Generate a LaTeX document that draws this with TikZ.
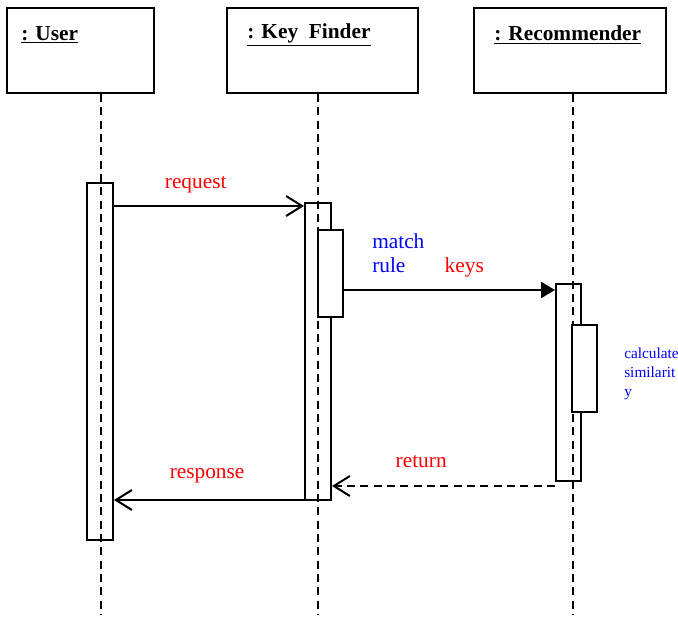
\documentclass[tikz,border=0pt]{standalone}
\usepackage{fontspec}
\setmainfont{Liberation Serif}
\usetikzlibrary{positioning, arrows.meta}

\begin{document}
\begin{tikzpicture}[
    x=0.75pt, y=-0.75pt,
    head/.style={
        rectangle, draw=black, line width=1.5pt,
        minimum height=63.75pt, inner sep=0pt
    },
    title/.style={anchor=west, inner sep=0pt, font=\fontsize{16}{19}\selectfont\bfseries},
    lifeline/.style={dash pattern=on 6pt off 4pt, line width=1.5pt},
    act/.style={rectangle, draw=black, line width=1.5pt, inner sep=0pt, minimum width=19.5pt},
    inact/.style={act, fill=white, minimum width=18.75pt, minimum height=65.25pt},
    call/.style={-{Straight Barb[length=12pt, width=15pt, line width=1.5pt]}, line width=1.6pt},
    send/.style={-{Triangle[length=10.5pt, width=12pt]}, line width=1.6pt},
    reply/.style={call, dash pattern=on 6pt off 4pt},
    msg/.style={text=red, inner sep=0pt, font=\fontsize{16}{19}\selectfont},
    note/.style={text=blue, inner sep=0pt, align=left}
]
\useasboundingbox (0,0) rectangle (678,618);

% 1. Objects on top
\node[head, minimum width=110.25pt] (user) at (80.5,50.5) {};
\node[head, minimum width=143.25pt] (finder) at (322.5,50.5) {};
\node[head, minimum width=144pt] (recom) at (570,50.5) {};

\node[title] (usertitle) at ([shift={(15,28)}]user.north west) {\underline{: User}};
\node[title] (findertitle) at ([shift={(21,28)}]finder.north west) {\underline{: Key\ \ Finder}};
\node[title] (recomtitle) at ([shift={(21,28)}]recom.north west) {\underline{: Recommender}};

% 2. Lifelines
\coordinate (uend) at (101,615);
\coordinate (fend) at (318,615);
\coordinate (rend) at (573,615);
\draw[lifeline] (uend |- user.south) -- (uend);
\draw[lifeline] (fend |- finder.south) -- (fend);
\draw[lifeline] (rend |- recom.south) -- (rend);

% 3. Activation bars
\node[act, minimum height=267.75pt] (uact) at (100,361.5) {};
\node[act, minimum height=222.75pt] (fact) at (318,351.5) {};
\node[inact] (fin) at (330.5,273.5) {};
\node[act, minimum width=18.75pt, minimum height=147.75pt] (ract) at (568.5,382.5) {};
\node[inact] (rin) at (584.5,368.5) {};

% 4. Notes beside the bars
\node[note, font=\fontsize{16}{18}\selectfont, below right=3pt and 21pt of fin.north east] (matchnote) {match\\rule};
\node[note, font=\fontsize{11.5}{14.25}\selectfont, right=19.5pt of rin, yshift=-3.75pt] (calcnote) {calculate\\similarit\\y};

% 5. Messages
\draw[call] (uact.east |- 0,206) -- (fact.west |- 0,206)
    node[msg, pos=0.43, yshift=16pt] (reqlabel) {request};
\draw[send] (fin.east |- 0,290) -- (ract.west |- 0,290)
    node[msg, pos=0.57, yshift=17pt] (keylabel) {keys};
\draw[reply] (ract.west |- 0,486) -- (fact.east |- 0,486)
    node[msg, pos=0.6, yshift=18pt] (retlabel) {return};
\draw[call] (fact.west |- 0,500) -- (uact.east |- 0,500)
    node[msg, pos=0.51, yshift=18pt] (resplabel) {response};

\end{tikzpicture}
\end{document}
